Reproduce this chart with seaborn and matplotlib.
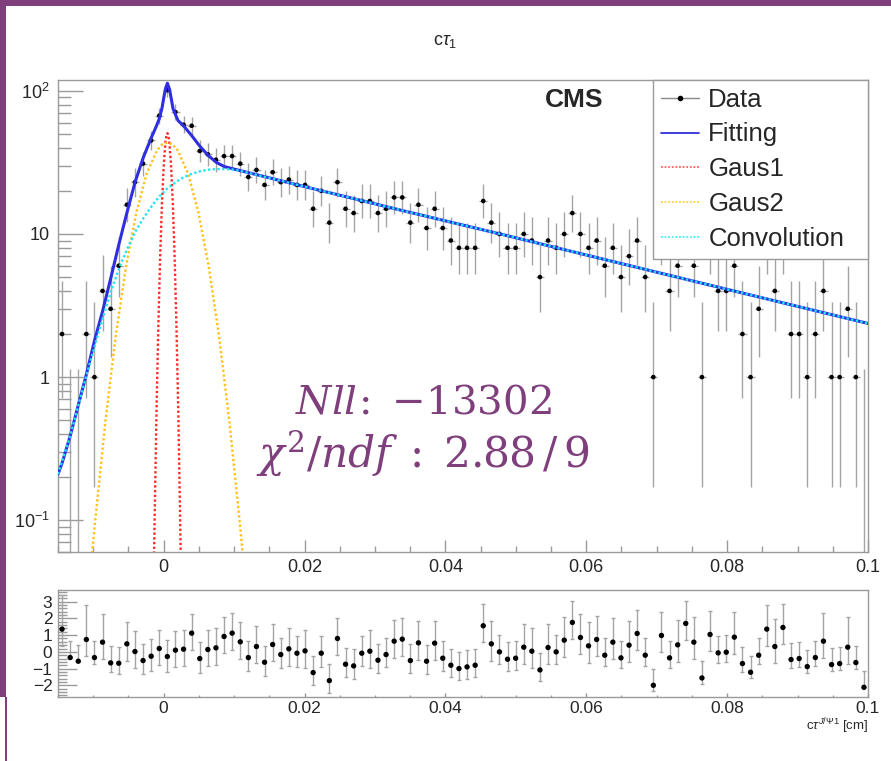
import numpy as np
import matplotlib
matplotlib.use("Agg")
import matplotlib.pyplot as plt
import seaborn as sns
from matplotlib.lines import Line2D
from matplotlib.patches import Rectangle
from matplotlib.ticker import (FixedLocator, FixedFormatter, MultipleLocator,
                               LogLocator, NullFormatter)

# ══════════════════════════════════════════
# DATA
# ══════════════════════════════════════════

x_min, x_max = -0.015, 0.1
bin_w = 0.00115

counts = [2, 0, 0, 2, 1, 4, 3, 6, 16, 23,
          31, 45, 67, 101, 71, 58, 57, 38, 36, 33,
          35, 35, 31, 25, 28, 22, 27, 23, 24, 22,
          22, 15, 20, 12, 23, 15, 14, 17, 17, 14,
          15, 18, 18, 12, 16, 11, 15, 11, 9, 8,
          8, 8, 17, 12, 10, 8, 8, 10, 9, 5,
          9, 8, 10, 14, 10, 8, 9, 6, 8, 5,
          7, 9, 5, 1, 9, 4, 6, 11, 6, 1,
          8, 4, 4, 6, 2, 1, 3, 8, 4, 8,
          2, 2, 1, 2, 4, 1, 1, 3, 1, 0]

pulls = [1.36, -0.34, -0.56, 0.74, -0.34, 0.58, -0.66, -0.68, 0.48, 0.02,
         -0.52, -0.26, 0.20, -0.28, 0.10, 0.16, 1.12, -0.40, 0.14, 0.24,
         0.92, 1.12, 0.60, -0.34, 0.32, -0.62, 0.44, -0.16, 0.18, -0.08,
         0.06, -1.24, -0.08, -1.72, 0.80, -0.74, -0.84, -0.08, 0.04, -0.50,
         -0.16, 0.64, 0.76, -0.52, 0.54, -0.56, 0.52, -0.38, -0.80, -1.00,
         -0.90, -0.80, 1.56, 0.48, 0.00, -0.44, -0.38, 0.28, 0.04, -1.08,
         0.26, 0.00, 0.70, 1.76, 0.86, 0.36, 0.74, -0.20, 0.58, -0.36,
         0.40, 1.10, -0.20, -2.00, 0.98, -0.36, 0.42, 1.70, 0.58, -1.56,
         1.04, -0.06, -0.02, 0.88, -0.70, -1.22, -0.20, 1.36, 0.32, 1.46,
         -0.46, -0.40, -0.88, -0.34, 0.64, -0.76, -0.70, 0.28, -0.64, -2.12]

fit_x = [-0.015, -0.01443, -0.01326, -0.01211, -0.01096, -0.00981, -0.00866,
         -0.00751, -0.00636, -0.00521, -0.00406, -0.00291, -0.00176, -0.00108,
         -0.00061, -0.00023, 0.00006, 0.00027, 0.00053, 0.00084, 0.00112,
         0.00133, 0.00169, 0.00204, 0.00284, 0.00399, 0.00514, 0.00629,
         0.00744, 0.00859, 0.00974, 0.01089, 0.01937, 0.03357, 0.04777,
         0.06197, 0.07617, 0.1]
fit_y = [0.21, 0.25, 0.39, 0.64, 1.05, 1.8, 2.9,
         4.9, 8.45, 14.1, 23, 34, 47, 56,
         64, 76, 92, 104, 113, 102, 86,
         75, 68, 62, 56.8, 48.6, 41, 35.5,
         31.7, 29.6, 28.6, 27.7, 21.8, 14.7, 10.0,
         6.75, 4.56, 2.37]

gaus1_x = [-0.00143, -0.00127, -0.00102, -0.00076, -0.00050, -0.00024, 0.00002,
           0.00027, 0.00040, 0.00053, 0.00066, 0.00079, 0.00104, 0.00130,
           0.00156, 0.00182, 0.00208, 0.00233, 0.00249]
gaus1_y = [0.037, 0.110, 0.56, 2.22, 6.85, 16.4, 30.7,
           44.6, 49.0, 50.6, 49.0, 44.6, 30.7, 16.4,
           6.85, 2.22, 0.56, 0.110, 0.037]

gaus2_x = [-0.01094, -0.00976, -0.00829, -0.00682, -0.00535, -0.00388, -0.00241,
           -0.00094, -0.00021, 0.00053, 0.00127, 0.00200, 0.00347, 0.00494,
           0.00641, 0.00788, 0.00935, 0.01082, 0.01200]
gaus2_y = [0.022, 0.095, 0.48, 1.91, 5.89, 14.1, 26.4,
           38.4, 42.2, 43.5, 42.2, 38.4, 26.4, 14.1,
           5.89, 1.91, 0.48, 0.095, 0.022]

conv_x = [-0.015, -0.01326, -0.01096, -0.00866, -0.00751, -0.00636, -0.00521,
          -0.00406, -0.00291, -0.00176, -0.00061, 0.00053, 0.00169, 0.00284,
          0.00399, 0.00514, 0.00629, 0.00744, 0.00859, 0.00974, 0.01089,
          0.01937, 0.03357, 0.04777, 0.06197, 0.07617, 0.1]
conv_y = [0.21, 0.39, 1.03, 2.57, 3.9, 5.7, 7.8,
          10.3, 12.8, 15.5, 18.3, 20.8, 23.0, 24.9,
          26.3, 27.4, 28.1, 28.4, 28.4, 28.2, 27.6,
          21.8, 14.7, 10.0, 6.75, 4.56, 2.37]

# ══════════════════════════════════════════
# ERRORS (Poisson intervals, RooFit style)
# ══════════════════════════════════════════

counts = np.array(counts, dtype=float)
pulls = np.array(pulls)
centers = x_min + bin_w * (np.arange(len(counts)) + 0.5)


def poisson_err(n):
    if n == 0:
        return 0.0, 1.147
    lo = n * (1 - 1 / (9 * n) - 1 / (3 * np.sqrt(n))) ** 3
    hi = n + 1 + np.sqrt(n + 0.75)
    return n - lo, hi - n


err = np.array([poisson_err(n) for n in counts])
err_lo, err_hi = err[:, 0], err[:, 1]

pull_lo = np.where(pulls > 0, 1.0, err_lo / err_hi)
pull_hi = np.where(pulls > 0, err_hi / np.maximum(err_lo, 1e-9), 1.0)

# ══════════════════════════════════════════
# STYLE
# ══════════════════════════════════════════

sns.set_theme(style="white")
plt.rcParams['font.family'] = ['Liberation Sans', 'DejaVu Sans']
plt.rcParams['mathtext.fontset'] = 'custom'
plt.rcParams['mathtext.rm'] = 'Liberation Sans'
plt.rcParams['mathtext.it'] = 'Liberation Sans:italic'
plt.rcParams['mathtext.bf'] = 'Liberation Sans:bold'

frame_col = '#9a9a9a'
bar_col = '#a4a4a4'
purple = '#7e3f7c'

W, H = 891, 761
fig = plt.figure(figsize=(W / 100, H / 100), dpi=100)
fig.patch.set_facecolor('white')


def fx(px):
    return px / W


def fy(py):
    return 1 - py / H


ax = fig.add_axes([fx(58), fy(552), fx(868) - fx(58), fy(80) - fy(552)])
axr = fig.add_axes([fx(58), fy(697), fx(868) - fx(58), fy(590) - fy(697)])

# ══════════════════════════════════════════
# MAIN PANEL
# ══════════════════════════════════════════

ax.set_yscale('log')
ax.errorbar(centers, counts, yerr=[err_lo, err_hi], xerr=bin_w / 2,
            fmt='none', ecolor=bar_col, elinewidth=1.0, capsize=0, zorder=2)
pos = counts > 0
sns.scatterplot(x=centers[pos], y=counts[pos], color='black', s=11,
                edgecolor='none', ax=ax, zorder=3, legend=False)

dot = (0, (1, 1))
sns.lineplot(x=fit_x, y=fit_y, ax=ax, color='#2f2fe0', lw=2.2,
             sort=False, estimator=None, zorder=4)
sns.lineplot(x=gaus1_x, y=gaus1_y, ax=ax, color='#ff2a2a', lw=1.7,
             linestyle=dot, sort=False, estimator=None, zorder=5)
sns.lineplot(x=gaus2_x, y=gaus2_y, ax=ax, color='#ffc21a', lw=1.7,
             linestyle=dot, sort=False, estimator=None, zorder=5)
sns.lineplot(x=conv_x, y=conv_y, ax=ax, color='#22e4f2', lw=1.7,
             linestyle=dot, sort=False, estimator=None, zorder=6)

ax.set_xlim(x_min, x_max)
ax.set_ylim(0.06, 119)

ax.yaxis.set_major_locator(FixedLocator([0.1, 1, 10, 100]))
ax.yaxis.set_major_formatter(FixedFormatter(['$10^{-1}$', '1', '10', '$10^{2}$']))
ax.yaxis.set_minor_locator(LogLocator(base=10, subs=np.arange(2, 10)))
ax.yaxis.set_minor_formatter(NullFormatter())
ax.xaxis.set_major_locator(FixedLocator([0, 0.02, 0.04, 0.06, 0.08, 0.1]))
ax.xaxis.set_major_formatter(FixedFormatter(['0', '0.02', '0.04', '0.06', '0.08', '0.1']))
ax.xaxis.set_minor_locator(MultipleLocator(0.005))

ax.tick_params(which='both', left=True, bottom=True, right=False, top=False)
ax.tick_params(axis='y', which='major', direction='in', length=18, width=1,
               color=frame_col, labelsize=13, pad=6)
ax.tick_params(axis='y', which='minor', direction='in', length=9.5, width=1,
               color=frame_col)
ax.tick_params(axis='x', which='major', direction='in', length=8.5, width=1,
               color=frame_col, labelsize=13, pad=5)
ax.tick_params(axis='x', which='minor', direction='in', length=4, width=1,
               color=frame_col)
ax.set_xlabel('')
ax.set_ylabel('')
for s in ax.spines.values():
    s.set_color(frame_col)
    s.set_linewidth(1)

fig.text(fx(574), fy(100), 'CMS', fontsize=19, fontweight='bold',
         ha='center', va='center', zorder=12)

handles = [
    Line2D([], [], color='#888888', lw=1, marker='o', markersize=3,
           markerfacecolor='black', markeredgecolor='black'),
    Line2D([], [], color='#2f2fe0', lw=1.3),
    Line2D([], [], color='#ff6060', lw=1.3, linestyle=dot),
    Line2D([], [], color='#ffd040', lw=1.3, linestyle=dot),
    Line2D([], [], color='#40f0f8', lw=1.3, linestyle=dot),
]
labels = ['Data', 'Fitting', 'Gaus1', 'Gaus2', 'Convolution']
leg = ax.legend(handles, labels, loc='upper right', mode='expand',
                bbox_to_anchor=(0.7346, 0.625, 0.2654, 0.375),
                borderaxespad=0, fontsize=18.5, fancybox=False, framealpha=1,
                edgecolor=frame_col, handlelength=1.5, handletextpad=0.35,
                labelspacing=0.42, borderpad=0.3)
leg.get_frame().set_linewidth(1)
leg.set_zorder(10)

# ══════════════════════════════════════════
# PULL PANEL
# ══════════════════════════════════════════

axr.errorbar(centers, pulls, yerr=[pull_lo, pull_hi], fmt='none',
             ecolor=bar_col, elinewidth=1.0, capsize=1.5, capthick=1, zorder=2)
sns.scatterplot(x=centers, y=pulls, color='black', s=15, edgecolor='none',
                ax=axr, zorder=3, legend=False)
axr.set_xlim(x_min, x_max)
axr.set_ylim(-2.7, 3.7)
axr.yaxis.set_major_locator(FixedLocator([-2, -1, 0, 1, 2, 3]))
axr.yaxis.set_minor_locator(MultipleLocator(0.2))
axr.xaxis.set_major_locator(FixedLocator([0, 0.02, 0.04, 0.06, 0.08, 0.1]))
axr.xaxis.set_major_formatter(FixedFormatter(['0', '0.02', '0.04', '0.06', '0.08', '0.1']))
axr.xaxis.set_minor_locator(MultipleLocator(0.005))
axr.tick_params(which='both', left=True, bottom=True, right=False, top=False)
axr.tick_params(axis='y', which='major', direction='in', length=14, width=1,
                color=frame_col, labelsize=12.5, pad=4)
axr.tick_params(axis='y', which='minor', direction='in', length=6.5, width=1,
                color=frame_col)
axr.tick_params(axis='x', which='major', direction='in', length=3, width=1,
                color=frame_col, labelsize=12.5, pad=3)
axr.tick_params(axis='x', which='minor', direction='in', length=1.5, width=1,
                color=frame_col)
axr.set_xlabel('')
axr.set_ylabel('')
for s in axr.spines.values():
    s.set_color(frame_col)
    s.set_linewidth(1)

fig.text(fx(868), fy(726), r'c$\tau^{J/\Psi 1}$ [cm]', fontsize=9.5,
         ha='right', va='center')

# ══════════════════════════════════════════
# TITLE, ANNOTATIONS, SLIDE FRAME
# ══════════════════════════════════════════

fig.text(fx(445), fy(42), r'c$\tau_{1}$', fontsize=13, ha='center', va='center')

fig.text(fx(423), fy(413), r'$Nll\!:\ {-}13302$', fontsize=29, color=purple,
         ha='center', va='baseline', math_fontfamily='dejavuserif')
fig.text(fx(423), fy(467), r'$\chi^{2}/ndf\;{:}\;2.88\,/\,9$', fontsize=30.5,
         color=purple, ha='center', va='baseline', math_fontfamily='dejavuserif')

fig.add_artist(Rectangle((0, fy(6)), 1, 6 / H, transform=fig.transFigure,
                         color=purple, lw=0))
fig.add_artist(Rectangle((0, fy(697)), 6 / W, 697 / H, transform=fig.transFigure,
                         color=purple, lw=0))
fig.add_artist(Rectangle((5 / W, 0), 2 / W, fy(697), transform=fig.transFigure,
                         color=purple, lw=0))

fig.savefig('out.png', dpi=100)
print("Saved: out.png")
